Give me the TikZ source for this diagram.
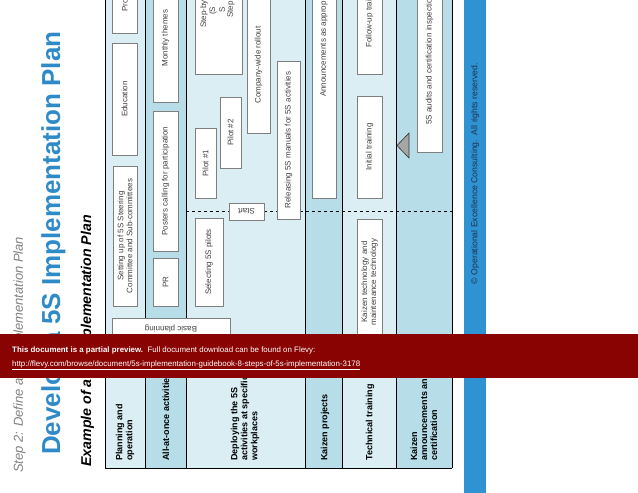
\documentclass[tikz,border=0pt]{standalone}
\usepackage{fontspec}
\setmainfont{Liberation Sans}
\usetikzlibrary{positioning}

\definecolor{rowlight}{HTML}{DAEEF3}
\definecolor{rowdark}{HTML}{B7DDE8}
\definecolor{titleblue}{HTML}{2E8BC8}
\definecolor{barblue}{HTML}{2F93D3}
\definecolor{boxline}{HTML}{7F7F7F}
\definecolor{boxtext}{HTML}{404040}
\definecolor{copytext}{HTML}{1F3050}
\definecolor{flevyred}{HTML}{8A0303}

\tikzset{
	boxbase/.style={draw=boxline,fill=white,line width=0.6pt,inner sep=1pt,
		align=center,text=boxtext,font=\fontsize{8}{9}\selectfont},
	taskbox/.style={boxbase,rotate=90},
	flatbox/.style={boxbase,rotate=180},
	cuttext/.style={rotate=90,anchor=west,inner sep=0pt,text=boxtext,font=\fontsize{8}{9}\selectfont},
	rowlabel/.style={rotate=90,anchor=west,inner sep=0pt,align=left,font=\bfseries\fontsize{9}{10}\selectfont}
}

\begin{document}
\begin{tikzpicture}[x=1pt,y=-1pt]
	\useasboundingbox (0,0) rectangle (638,493);
	\clip (0,0) rectangle (638,493);

	% rows of the plan
	\foreach \xa/\xb/\col in {105/145/rowlight,145/186/rowdark,186/305.7/rowlight,
		305.7/342.3/rowdark,342.3/396.7/rowlight,396.7/452.3/rowdark}
		\fill[\col] (\xa,-5) rectangle (\xb,468);
	\foreach \xa in {105,145,186,305.7,342.3,396.7,452.3}
		\draw[line width=0.8pt] (\xa,-5) -- (\xa,468);
	\draw[line width=0.8pt] (105,468) -- (452.3,468);

	% titles
	\node[rotate=90,anchor=base west,inner sep=0pt,text=gray,font=\itshape\fontsize{13}{15}\selectfont]
		(step) at (23,473) {Step 2: Define a 5S Implementation Plan};
	\node[rotate=90,anchor=base west,inner sep=0pt,text=titleblue,font=\bfseries\fontsize{26}{30}\selectfont]
		(title) at (60,455) {Develop a 5S Implementation Plan};
	\node[rotate=90,anchor=base west,inner sep=0pt,font=\bfseries\itshape\fontsize{14.2}{16}\selectfont]
		(example) at (91,467) {Example of a 5S Implementation Plan};

	% row labels
	\node[rowlabel] (lplan) at (125,461) {Planning and\\operation};
	\node[rowlabel] (lall) at (166,461) {All-at-once activities};
	\node[rowlabel] (ldeploy) at (245,461) {Deploying the 5S\\activities at specific\\workplaces};
	\node[rowlabel] (lkaizen) at (325,461) {Kaizen projects};
	\node[rowlabel] (ltech) at (370,461) {Technical training};
	\node[rowlabel] (lcert) at (424,461) {Kaizen\\announcements and\\certification};

	% start line
	\coordinate (dashL) at (186,211);
	\coordinate (dashR) at (452.3,211);
	\draw[dashed,line width=0.6pt] (dashL) -- (dashR);

	% planning and operation
	\node[taskbox,minimum width=140,minimum height=24] (setup) at (125,236)
		{Setting up of 5S Steering\\Committee and Sub-committees};
	\node[taskbox,minimum width=112,minimum height=25] (edu) at (124.5,99) {Education};
	\node[taskbox,minimum width=53,minimum height=25] (pro) at (124.5,6.5) {};
	\node[cuttext] (protext) at (125,12) {Pro};
	\node[flatbox,minimum width=118,minimum height=22] (basic) at (171,329) {Basic planning};

	% all-at-once activities
	\node[taskbox,minimum width=48,minimum height=25] (pr) at (165.5,282) {PR};
	\node[taskbox,minimum width=140,minimum height=25] (posters) at (165.5,181)
		{Posters calling for participation};
	\node[taskbox,minimum width=128,minimum height=25] (monthly) at (165.5,38) {Monthly themes};

	% deploying the 5S activities
	\node[taskbox,minimum width=88,minimum height=28] (select) at (209,262) {Selecting 5S pilots};
	\node[taskbox,minimum width=70,minimum height=21] (pilota) at (205.5,163) {Pilot \#1};
	\node[taskbox,minimum width=71,minimum height=21] (pilotb) at (230.5,132.5) {Pilot \#2};
	\node[taskbox,minimum width=114,minimum height=47] (stepwise) at (218.5,17) {};
	\node[cuttext] (stepa) at (204,28) {Step-by};
	\node[cuttext] (stepb) at (213,15) {(S};
	\node[cuttext] (stepc) at (222,13) {S};
	\node[cuttext] (stepd) at (231,18) {Step};
	\node[taskbox,minimum width=136,minimum height=23] (rollout) at (258.5,65) {Company-wide rollout};
	\node[flatbox,minimum width=35,minimum height=17] (start) at (246.5,211.5) {Start};
	\node[taskbox,minimum width=158,minimum height=23] (manuals) at (288.5,140)
		{Releasing 5S manuals for 5S activities};

	% kaizen projects
	\node[taskbox,minimum width=238,minimum height=24] (announce) at (324,79) {};
	\node[cuttext] (announcetext) at (324,97) {Announcements as approp};

	% technical training
	\node[taskbox,minimum width=126,minimum height=25] (kaizentech) at (369.5,282)
		{Kaizen technology and\\maintenance technology};
	\node[taskbox,minimum width=102,minimum height=25] (initial) at (369.5,147) {Initial training};
	\node[taskbox,minimum width=114,minimum height=25] (followup) at (369.5,17) {};
	\node[cuttext] (followuptext) at (369.5,48) {Follow-up trai};

	% announcements and certification
	\node[taskbox,minimum width=192,minimum height=25] (audits) at (429.5,56) {};
	\node[cuttext] (auditstext) at (429.5,125) {5S audits and certification inspectio};
	\coordinate (tipA) at (397,145.5);
	\coordinate (tipB) at (409,133);
	\coordinate (tipC) at (409,158);
	\draw[fill=gray!70,draw=gray!40!black,line width=0.6pt] (tipA) -- (tipB) -- (tipC) -- cycle;

	% copyright bar
	\fill[barblue] (464.3,-5) rectangle (485.7,500);
	\node[rotate=90,inner sep=0pt,text=copytext,font=\fontsize{8.7}{10}\selectfont]
		(copy) at (475,173.5) {\textcopyright{} Operational Excellence Consulting.\ \ All rights reserved.};

	% preview banner
	\fill[flevyred] (-5,334) rectangle (643,378);
	\node[anchor=base west,inner sep=0pt,text=white,font=\fontsize{7.9}{9}\selectfont]
		(bannera) at (12,352) {\textbf{This document is a partial preview.}\ \ Full document download can be found on Flevy:};
	\node[anchor=base west,inner sep=0pt,text=white,font=\fontsize{7.9}{9}\selectfont]
		(bannerb) at (12,366.5) {\underline{http://flevy.com/browse/document/5s-implementation-guidebook-8-steps-of-5s-implementation-3178}};
\end{tikzpicture}
\end{document}
